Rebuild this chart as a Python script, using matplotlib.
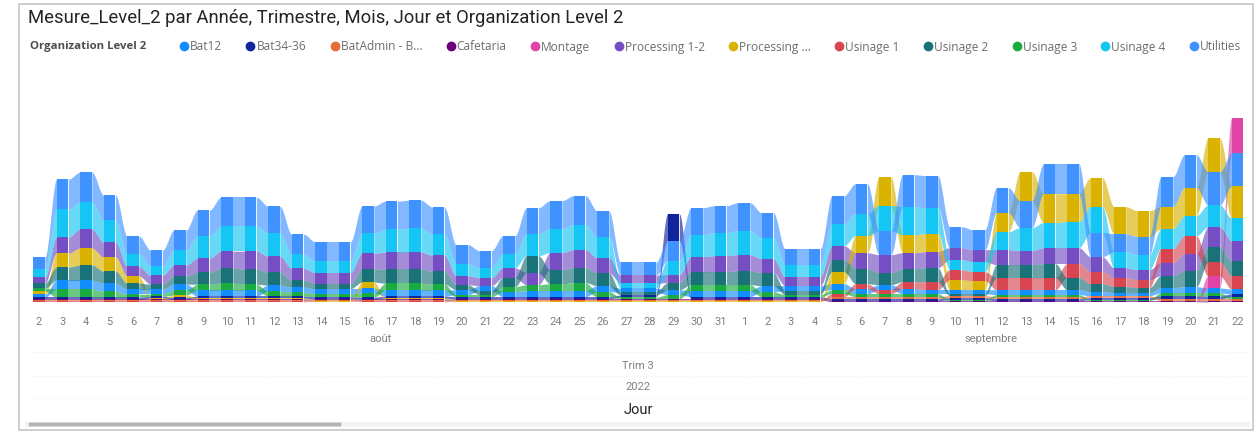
import numpy as np
import matplotlib.pyplot as plt
from matplotlib.lines import Line2D
from matplotlib.patches import Rectangle, FancyBboxPatch

# day labels (Aug 2 -> Sep 22, 2022)
days_aout = ["2", "3", "4", "5", "6", "7", "8", "9", "10", "11", "12", "13", "14", "15", "16",
             "17", "18", "19", "20", "21", "22", "23", "24", "25", "26", "27", "28", "29", "30", "31"]
days_sept = ["1", "2", "3", "4", "5", "6", "7", "8", "9", "10", "11", "12", "13", "14", "15",
             "16", "17", "18", "19", "20", "21", "22"]
days = days_aout + days_sept

names = ["Bat12", "Bat34-36", "BatAdmin - B...", "Cafetaria", "Montage", "Processing 1-2",
         "Processing ...", "Usinage 1", "Usinage 2", "Usinage 3", "Usinage 4", "Utilities"]
colors = ["#118DFF", "#12239E", "#E66C37", "#6B007B", "#E044A7", "#744EC2",
          "#D9B300", "#D64550", "#197278", "#1AAB40", "#15C6F4", "#4092FF"]

# values (arbitrary units)
bat12 = [3, 9, 9, 8, 5, 5, 6, 6, 6, 6, 6, 5, 5, 5, 5, 6, 6, 6, 5, 5, 5, 6, 6, 6, 6, 4, 4, 5, 6, 6,
         6, 6, 5, 5, 6, 5, 5, 5, 4, 4, 4, 5, 5, 5, 5, 4, 3, 3, 5, 6, 5, 5]
bat34 = [2, 2, 2, 2, 2, 2, 2, 2, 2, 2, 2, 2, 2, 2, 2, 2, 2, 2, 2, 2, 2, 2, 2, 2, 2, 2, 2, 27, 2, 2,
         2, 2, 2, 2, 2, 2, 2, 2, 2, 2, 2, 2, 2, 2, 2, 2, 2, 2, 3, 3, 3, 3]
batadmin = [1, 1, 1, 1, 1, 1, 1, 1, 1, 1, 1, 1, 1, 1, 1, 1, 1, 1, 1, 1, 1, 1, 1, 1, 1, 1, 1, 1, 1, 1,
            1, 1, 1, 1, 2, 2, 2, 2, 2, 2, 2, 2, 2, 2, 2, 2, 2, 2, 2, 2, 2, 2]
cafetaria = [1, 1, 1, 1, 1, 1, 1, 1, 1, 1, 1, 1, 1, 1, 1, 1, 1, 1, 1, 1, 1, 1, 1, 1, 1, 1, 1, 1, 1, 1,
             1, 1, 1, 1, 1, 1, 1, 1, 1, 1, 1, 1, 1, 1, 1, 1, 1, 1, 1, 1, 1, 1]
montage = [0.3, 0.3, 0.3, 0.3, 0.3, 0.3, 0.3, 0.3, 0.3, 0.3, 0.3, 0.3, 0.3, 0.3, 0.3, 0.3, 0.3, 0.3,
           0.3, 0.3, 0.3, 0.3, 0.3, 0.3, 0.3, 0.3, 0.3, 0.3, 0.3, 0.3,
           0.3, 0.3, 0.3, 0.3, 0.3, 0.3, 0.3, 0.3, 0.3, 0.3, 0.3, 0.3, 0.3, 0.3, 0.3, 0.3, 0.3, 0.3,
           0.3, 0.3, 12, 35]
proc12 = [6, 16, 19, 15, 10, 9, 11, 14, 17, 18, 16, 12, 11, 11, 16, 17, 17, 16, 9, 8, 10, 12, 17, 18,
          15, 8, 8, 8, 15, 16,
          16, 14, 9, 9, 14, 16, 18, 16, 16, 12, 12, 15, 14, 16, 16, 15, 10, 10, 13, 17, 20, 20]
proc_x = [3, 14, 17, 14, 7, 1, 2, 1, 1, 1, 1, 1, 0.5, 0.5, 6, 1, 1, 1, 0.5, 0.5, 0.5, 0.5, 0.5, 0.5,
          0.5, 0.5, 0.5, 0.5, 0.5, 0.5,
          0.5, 0.5, 0.5, 0.5, 12, 17, 29, 18, 18, 10, 9, 19, 29, 29, 28, 29, 27, 26, 22, 28, 34, 32]
usinage1 = [0.5, 0.5, 0.5, 0.5, 0.5, 0.5, 0.5, 0.5, 0.5, 0.5, 0.5, 0.5, 0.5, 0.5, 0.5, 0.5, 0.5, 0.5,
            0.5, 0.5, 0.5, 0.5, 0.5, 0.5, 0.5, 0.5, 0.5, 0.5, 0.5, 0.5,
            0.5, 0.5, 0.5, 0.5, 3, 5, 4, 7, 8, 10, 9, 12, 12, 12, 14, 12, 9, 8, 14, 18, 14, 13]
usinage2 = [5, 13, 15, 12, 6, 5, 8, 12, 15, 15, 13, 7, 5, 5, 13, 14, 14, 13, 5, 4, 9, 17, 14, 15,
            13, 3, 3, 7, 13, 13,
            14, 13, 4, 4, 12, 15, 12, 13, 14, 2, 2, 13, 13, 14, 12, 8, 6, 5, 12, 16, 15, 15]
usinage3 = [3, 8, 8, 6, 3, 2, 5, 6, 7, 6, 5, 4, 3, 3, 4, 7, 7, 6, 2, 2, 5, 6, 7, 8, 5, 1.5, 1.5, 4, 6, 6,
            6, 5, 2, 2, 4, 3, 3, 3, 3, 1, 1, 2, 2, 2, 2, 1, 1, 1, 3, 3, 3, 2]
usinage4 = [8, 28, 27, 22, 12, 9, 15, 22, 25, 25, 23, 14, 12, 12, 20, 23, 24, 21, 12, 10, 14, 22, 24,
            25, 21, 5, 5, 14, 22, 23,
            24, 21, 12, 12, 22, 22, 25, 28, 26, 10, 10, 18, 23, 25, 26, 26, 16, 15, 20, 20, 22, 23]
utilities = [12, 30, 30, 25, 18, 16, 20, 26, 29, 29, 27, 20, 19, 19, 27, 28, 28, 27, 19, 17, 18, 26,
             28, 29, 26, 13, 13, 20, 27, 27,
             28, 25, 16, 16, 28, 30, 24, 32, 32, 21, 20, 25, 27, 30, 30, 24, 18, 18, 30, 33, 33, 33]

vals = np.array([bat12, bat34, batadmin, cafetaria, montage, proc12, proc_x,
                 usinage1, usinage2, usinage3, usinage4, utilities], dtype=float)
n = vals.shape[1]
x = np.arange(n)

# ribbon chart: rank per day, biggest on top
bottom = np.zeros_like(vals)
for j in range(n):
    acc = 0.0
    for s in np.argsort(vals[:, j], kind="stable"):
        bottom[s, j] = acc
        acc += vals[s, j]
top = bottom + vals

fig = plt.figure(figsize=(12.56, 4.32), dpi=100)
ax = fig.add_axes([30 / 1256, (432 - 302) / 432, 1218 / 1256, 192 / 432])

w = 0.5
t = np.linspace(0, 1, 40)
ease = t * t * (3 - 2 * t)
for s in range(len(names)):
    for j in range(n - 1):
        xs = np.linspace(j + w / 2, j + 1 - w / 2, 40)
        lo = bottom[s, j] + (bottom[s, j + 1] - bottom[s, j]) * ease
        hi = top[s, j] + (top[s, j + 1] - top[s, j]) * ease
        ax.fill_between(xs, lo, hi, color=colors[s], alpha=0.65, lw=0)
for s in range(len(names)):
    ax.bar(x, vals[s], bottom=bottom[s], width=w, color=colors[s], lw=0)

ax.set_xlim(-0.383, n - 1 + 0.45)
ax.set_ylim(0, 192)
ax.set_yticks([])
ax.set_xticks(x)
ax.set_xticklabels(days, fontsize=8, color="#808080", family="Roboto")
ax.tick_params(axis="x", length=0, pad=11)
for sp in ax.spines.values():
    sp.set_visible(False)


def px(xp, yp):
    return xp / 1256, 1 - yp / 432


fig.text(*px(28, 18), "Mesure_Level_2 par Année, Trimestre, Mois, Jour et Organization Level 2",
         fontsize=13.3, color="#252423", family="Roboto", va="center")
fig.text(*px(30, 47), "Organization Level 2", fontsize=8.2, color="#4f4d4b", weight="bold",
         family="Open Sans", va="center")
handles = [Line2D([], [], marker="o", ls="", color=c, markersize=6) for c in colors]
fig.legend(handles, names, loc="center left", bbox_to_anchor=px(166, 47), ncol=len(names),
           frameon=False, handletextpad=-0.1, columnspacing=1.78, handlelength=1.2,
           prop={"family": "Open Sans", "size": 8.6}, labelcolor="#6f6d6b")

# hierarchy labels
fig.text(*px(380, 339), "août", fontsize=8, color="#808080", family="Roboto", ha="center", va="center")
fig.text(*px(991, 339), "septembre", fontsize=8, color="#808080", family="Roboto", ha="center", va="center")
fig.text(*px(638, 366), "Trim 3", fontsize=8, color="#808080", family="Roboto", ha="center", va="center")
fig.text(*px(638, 387), "2022", fontsize=8, color="#808080", family="Roboto", ha="center", va="center")
fig.text(*px(638, 410), "Jour", fontsize=10.5, color="#252423", family="Roboto", ha="center", va="center")

# faint separators between hierarchy rows
for yp in [352, 376, 398]:
    fig.add_artist(Line2D([30 / 1256, 1248 / 1256], [1 - yp / 432] * 2, color="#eeeeee", lw=0.8, ls=":"))

# scrollbar + visual border
fig.add_artist(Rectangle(px(25, 427), 1225 / 1256, 5 / 432, color="#f3f3f3", lw=0))
fig.add_artist(FancyBboxPatch(px(30, 426), 310 / 1256, 3 / 432, boxstyle="round,pad=0.001",
                              color="#b3b3b3", lw=0))
fig.add_artist(Rectangle(px(19, 430), 1234 / 1256, 426 / 432, fill=False, edgecolor="#c8c6c4", lw=1.2))

fig.savefig("out.png", dpi=100)
